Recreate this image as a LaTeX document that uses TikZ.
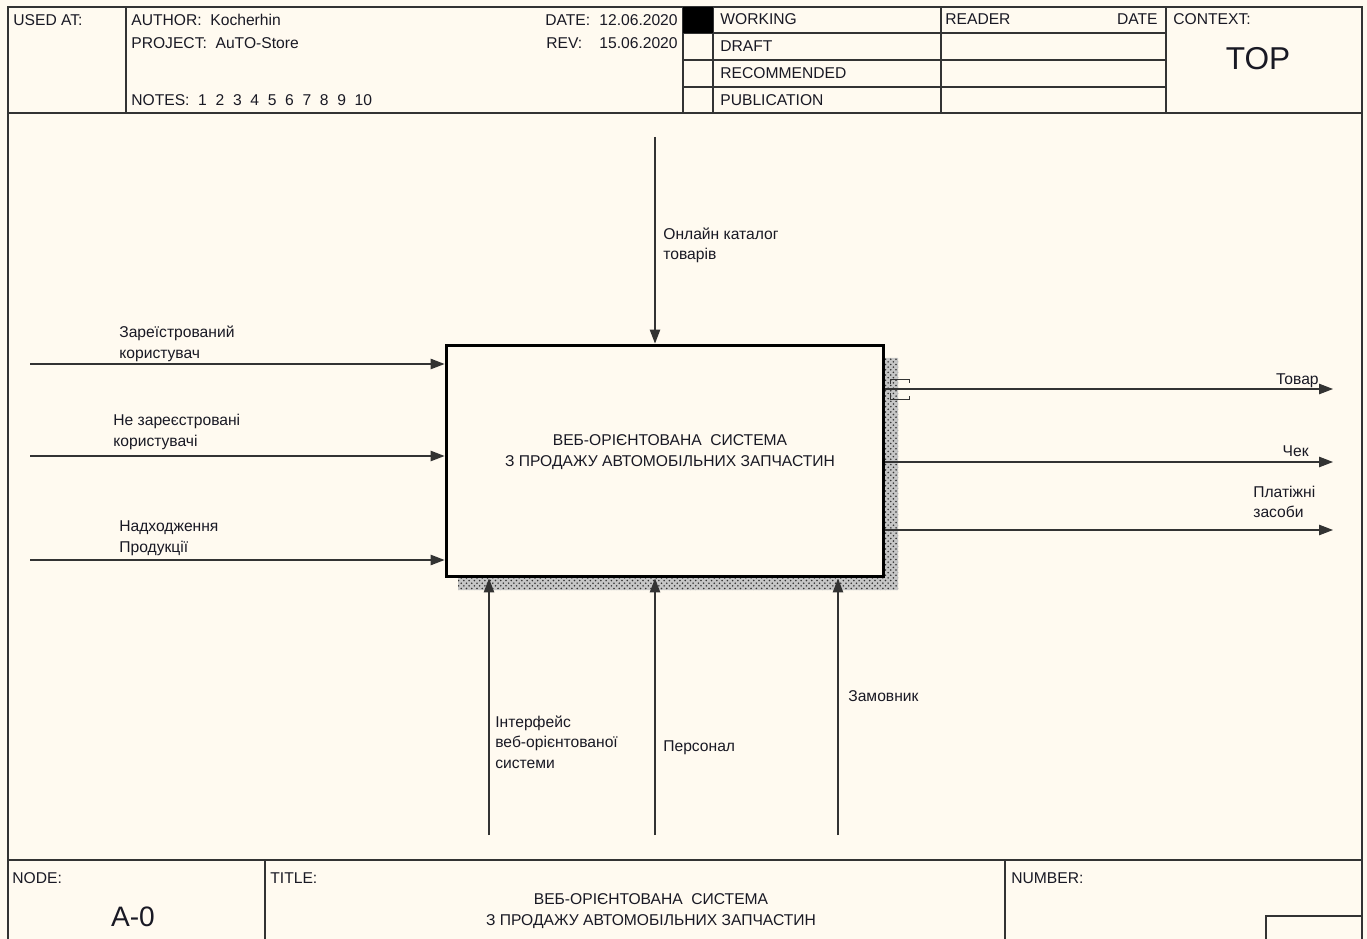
\documentclass[tikz,border=0pt]{standalone}
\usepackage{fontspec}
\setmainfont{Liberation Sans}
\usetikzlibrary{arrows.meta,positioning,patterns}
\definecolor{idefpaper}{HTML}{FFFAF0}
\definecolor{idefline}{rgb}{0.2,0.2,0.2}
\definecolor{ideftext}{rgb}{0.1,0.1,0.14}

\begin{document}
\begin{tikzpicture}[x=0.02cm, y=-0.02cm, >={Triangle[length=0.28cm,width=0.21cm]},
    font=\fontsize{8.9}{11.4}\selectfont, text=ideftext,
    frm/.style={draw=idefline, line width=0.8pt},
    flow/.style={->, draw=idefline, line width=0.65pt},
    lbl/.style={anchor=base west, inner sep=0pt, align=left},
    funcbox/.style={draw=black, line width=1.7pt, fill=idefpaper, minimum width=8.76cm,
      minimum height=4.64cm, inner sep=0pt}]
  \fill[idefpaper] (0,0) rectangle (1367,939);
  \useasboundingbox (0,0) rectangle (1367,939);

  % form frame
  \draw[draw=idefline, line width=1.6pt] (8,939) -- (8,7) -- (1362,7) -- (1362,939);
  \draw[frm] (8,113) -- (1362,113);
  \draw[frm] (126,7) -- (126,113);
  \foreach \x in {683,713,941,1166} \draw[frm] (\x,7) -- (\x,113);
  \foreach \y in {33,60,87} \draw[frm] (683,\y) -- (1166,\y);
  \fill[black] (683,7) rectangle (713,33);

  % header texts
  \node[lbl] (usedat) at (13,26) {USED AT:};
  \node[lbl] (author) at (131,26) {AUTHOR:\ \ Kocherhin};
  \node[lbl] (project) at (131,49) {PROJECT:\ \ AuTO-Store};
  \node[lbl] (notes) at (131,106) {NOTES:\ \ 1\ \ 2\ \ 3\ \ 4\ \ 5\ \ 6\ \ 7\ \ 8\ \ 9\ \ 10};
  \node[lbl] (datelbl) at (545,26) {DATE:};
  \node[lbl, anchor=base east] (dateval) at (678,26) {12.06.2020};
  \node[lbl] (revlbl) at (546,49) {REV:};
  \node[lbl, anchor=base east] (revval) at (678,49) {15.06.2020};
  \node[lbl] (working) at (720,25) {WORKING};
  \node[lbl] (draft) at (720,52) {DRAFT};
  \node[lbl] (recomm) at (720,79) {RECOMMENDED};
  \node[lbl] (public) at (720,106) {PUBLICATION};
  \node[lbl] (reader) at (945,25) {READER};
  \node[lbl, anchor=base east] (rdate) at (1158,25) {DATE};
  \node[lbl] (context) at (1173,25) {CONTEXT:};
  \node[lbl, anchor=base, font=\fontsize{18}{20}\selectfont] (top) at (1258,70) {TOP};

  % footer
  \draw[draw=idefline, line width=1.2pt] (8,860) -- (1362,860);
  \draw[frm] (265,860) -- (265,939) (1005,860) -- (1005,939);
  \draw[frm] (1266,939) -- (1266,916) -- (1362,916);
  \node[lbl] (nodelbl) at (12,883) {NODE:};
  \node[lbl, anchor=base, font=\fontsize{16}{18}\selectfont] (nodeval) at (133,926) {A-0};
  \node[lbl] (titlelbl) at (270,883) {TITLE:};
  \node[lbl, anchor=base, align=center] (titleval) at (651,925)
    {ВЕБ-ОРІЄНТОВАНА\ \ СИСТЕМА\\З ПРОДАЖУ АВТОМОБІЛЬНИХ ЗАПЧАСТИН};
  \node[lbl] (numberlbl) at (1011,883) {NUMBER:};

  % shadow and function box
  \fill[gray!45] (884,358) rectangle (898,590) (458,577) rectangle (884,590);
  \fill[pattern=crosshatch dots, pattern color=gray!40!black] (884,358) rectangle (898,590)
    (458,577) rectangle (884,590);
  \node[funcbox] (sys) at (665,461) {};
  \node[lbl, anchor=base, align=center] (systext) at (670,466)
    {ВЕБ-ОРІЄНТОВАНА\ \ СИСТЕМА\\З ПРОДАЖУ АВТОМОБІЛЬНИХ ЗАПЧАСТИН};

  % inputs
  \coordinate (in1) at (30,364);
  \coordinate (in2) at (30,456);
  \coordinate (in3) at (30,560);
  \foreach \c in {in1,in2,in3} \draw[flow] (\c) -- (\c -| sys.west);
  \node[lbl] (lin1) at (119,358) {Зареїстрований\\користувач};
  \node[lbl] (lin2) at (113,446) {Не зареєстровані\\користувачі};
  \node[lbl] (lin3) at (119,552) {Надходження\\Продукції};

  % control
  \coordinate (ctl) at (655,137);
  \draw[flow] (ctl) -- (ctl |- sys.north);
  \node[lbl] (lctl) at (663,260) {Онлайн каталог\\товарів};

  % outputs
  \coordinate (out1) at (1333,389);
  \coordinate (out2) at (1333,462);
  \coordinate (out3) at (1333,530);
  \foreach \c in {out1,out2,out3} \draw[flow] (\c -| sys.east) -- (\c);
  \node[lbl, anchor=base east] (lout1) at (1319,385) {Товар};
  \node[lbl, anchor=base east] (lout2) at (1309,457) {Чек};
  \node[lbl] (lout3) at (1253,518) {Платіжні\\засоби};
  % tunnel mark
  \draw[idefline, line width=0.5pt] (890,384) -- (890,379) -- (909,379) -- (909,383)
    (890,393) -- (890,399) -- (909,399) -- (909,396);

  % mechanisms
  \coordinate (mec1) at (489,835);
  \coordinate (mec2) at (655,835);
  \coordinate (mec3) at (838,835);
  \foreach \c in {mec1,mec2,mec3} \draw[flow] (\c) -- (\c |- sys.south);
  \node[lbl] (lmec1) at (495,768) {Інтерфейс\\веб-орієнтованої\\системи};
  \node[lbl] (lmec2) at (663,751) {Персонал};
  \node[lbl] (lmec3) at (848,701) {Замовник};
\end{tikzpicture}
\end{document}
